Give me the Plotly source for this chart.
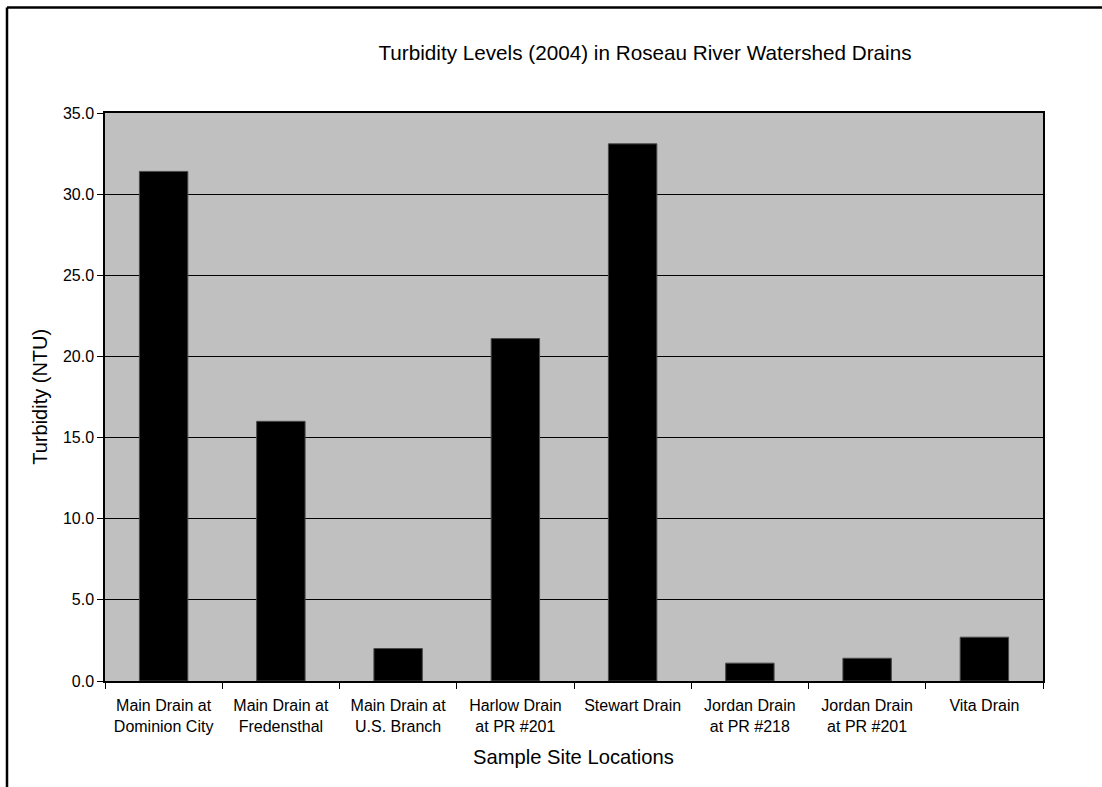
import plotly.graph_objects as go

# Sample sites and their 2004 turbidity readings (NTU)
sites = [
    "Main Drain at<br>Dominion City",
    "Main Drain at<br>Fredensthal",
    "Main Drain at<br>U.S. Branch",
    "Harlow Drain<br>at PR #201",
    "Stewart Drain",
    "Jordan Drain<br>at PR #218",
    "Jordan Drain<br>at PR #201",
    "Vita Drain",
]
turbidity = [31.4, 16.0, 2.0, 21.1, 33.1, 1.1, 1.4, 2.7]
y_ticks = [0, 5, 10, 15, 20, 25, 30, 35]

W, H = 1102, 787
L, R, T, B = 105, 59, 113, 105.5
pw, ph = W - L - R, H - T - B


def px_x(px):
    return (px - L) / pw


def px_y(py):
    return (H - B - py) / ph


font = "Arial, Liberation Sans, Helvetica, sans-serif"

fig = go.Figure(
    go.Bar(
        x=sites,
        y=turbidity,
        marker=dict(color="#000000", line=dict(color="#4a4a4a", width=1)),
        hoverinfo="x+y",
    )
)

fig.update_layout(
    width=W,
    height=H,
    margin=dict(l=L, r=R, t=T, b=B, pad=0),
    paper_bgcolor="#ffffff",
    plot_bgcolor="#c0c0c0",
    bargap=0.587,
    showlegend=False,
    font=dict(family=font, color="#000000", size=16),
    title=dict(
        text="Turbidity Levels (2004) in Roseau River Watershed Drains",
        font=dict(family=font, size=20.7, color="#000000"),
        x=645 / W,
        xref="container",
        xanchor="center",
        y=1 - 53 / H,
        yref="container",
        yanchor="middle",
    ),
    xaxis=dict(
        type="category",
        showgrid=False,
        showline=True,
        linecolor="#000000",
        linewidth=1.5,
        mirror=True,
        ticks="outside",
        ticklen=6,
        tickcolor="#000000",
        tickson="boundaries",
        ticklabelstandoff=9,
        tickfont=dict(family=font, size=16),
    ),
    yaxis=dict(
        range=[0, 35],
        tickvals=y_ticks,
        tickformat=".1f",
        showgrid=True,
        gridcolor="#000000",
        gridwidth=1,
        zeroline=False,
        showline=True,
        linecolor="#000000",
        linewidth=1.5,
        mirror=True,
        ticks="outside",
        ticklen=6,
        tickcolor="#000000",
        tickfont=dict(family=font, size=16),
    ),
    annotations=[
        dict(
            text="Sample Site Locations",
            xref="paper", yref="paper",
            x=px_x(573), y=px_y(758),
            xanchor="center", yanchor="middle",
            showarrow=False,
            font=dict(family=font, size=20.2),
        ),
        dict(
            text="Turbidity (NTU)",
            xref="paper", yref="paper",
            x=px_x(40), y=px_y(397),
            xanchor="center", yanchor="middle",
            textangle=-90,
            showarrow=False,
            font=dict(family=font, size=20),
        ),
    ],
    shapes=[
        # outer chart frame (top and left edges)
        dict(type="line", xref="paper", yref="paper",
             x0=px_x(7), y0=px_y(7.5), x1=px_x(W + 10), y1=px_y(7.5),
             line=dict(color="#000000", width=2.5)),
        dict(type="line", xref="paper", yref="paper",
             x0=px_x(7), y0=px_y(7.5), x1=px_x(7), y1=px_y(H + 10),
             line=dict(color="#000000", width=2.5)),
    ],
)

fig.write_html("out.html")
